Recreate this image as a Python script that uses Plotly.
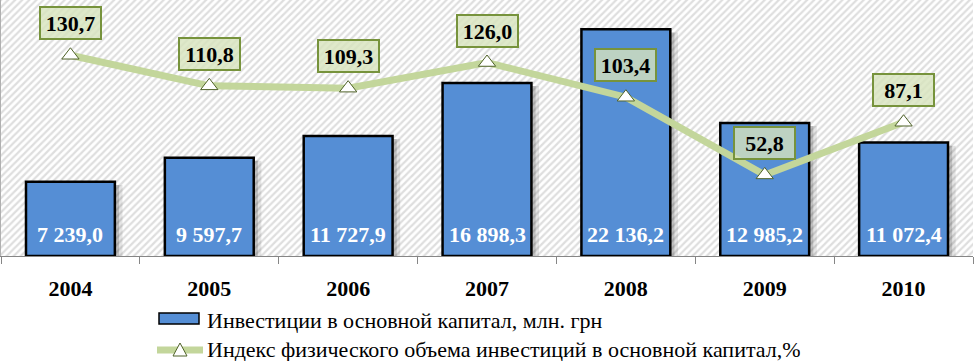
import plotly.graph_objects as go

# ---- data ----
years = ["2004", "2005", "2006", "2007", "2008", "2009", "2010"]
investments = [7239.0, 9597.7, 11727.9, 16898.3, 22136.2, 12985.2, 11072.4]
volume_index = [130.7, 110.8, 109.3, 126.0, 103.4, 52.8, 87.1]
legend_labels = ["Инвестиции в основной капитал, млн. грн",
                 "Индекс физического объема инвестиций в основной капитал,%"]

# ---- layout constants ----
W, H = 974, 361
ML, MR, MT, MB = 1, 1, 0, 105
PW, PH = W - ML - MR, H - MT - MB
Y1_MAX = 25000
Y2_MAX = 166.7
SERIF = "Liberation Serif, Times New Roman, serif"
BAR_BLUE = "#558ED5"
LINE_GREEN = "#C3D69B"


def fmt(v):
    return f"{v:,.1f}".replace(",", " ").replace(".", ",")


def px_x(X):
    return (X - ML) / PW


def px_y(Y):
    return (PH + MT - Y) / PH


fig = go.Figure()

# hatched plot background (centre category, spanning all categories)
fig.add_trace(go.Bar(
    x=[years[len(years) // 2]], y=[Y1_MAX], width=[len(years)],
    marker=dict(color="white", line_width=0,
                pattern=dict(shape="/", fgcolor="#BEBEBE", bgcolor="white",
                             size=5, solidity=0.45)),
    hoverinfo="skip", showlegend=False))

# soft bar shadows (two layers)
for off, alpha in ((0.055, 0.10), (0.03, 0.16)):
    fig.add_trace(go.Bar(
        x=years, y=[v - 50 for v in investments], base=-250,
        width=0.64, offset=-0.32 + off,
        marker=dict(color=f"rgba(0,0,0,{alpha})", line_width=0),
        hoverinfo="skip", showlegend=False))

# bars
fig.add_trace(go.Bar(
    x=years, y=investments, width=0.64, offset=-0.32,
    marker=dict(color=BAR_BLUE, line=dict(color="black", width=2.5)),
    name=legend_labels[0], showlegend=False))

# line on secondary axis
fig.add_trace(go.Scatter(
    x=years, y=volume_index, yaxis="y2", mode="lines+markers",
    line=dict(color=LINE_GREEN, width=7),
    marker=dict(symbol="triangle-up", size=15, color="white",
                line=dict(color="#4F6228", width=1)),
    name=legend_labels[1], showlegend=False))

annotations = []
for i, v in enumerate(investments):
    annotations.append(dict(
        x=i, y=0, xref="x", yref="y", yanchor="bottom", yshift=7,
        text=f"<b>{fmt(v)}</b>", showarrow=False,
        font=dict(family=SERIF, size=22, color="white")))

for i, v in enumerate(volume_index):
    annotations.append(dict(
        x=i, y=v, xref="x", yref="y2", yanchor="middle", yshift=32,
        text="<b>" + f"{v:.1f}".replace(".", ",") + "</b>", showarrow=False,
        bgcolor="rgba(215,228,189,0.8)", bordercolor="#77933C",
        borderwidth=2, borderpad=1, width=57, height=28,
        font=dict(family=SERIF, size=22, color="black")))

# custom legend
annotations.append(dict(
    x=px_x(205), y=px_y(320), xref="paper", yref="paper",
    xanchor="left", yanchor="middle", text=legend_labels[0], showarrow=False,
    font=dict(family=SERIF, size=22, color="black")))
annotations.append(dict(
    x=px_x(205), y=px_y(349), xref="paper", yref="paper",
    xanchor="left", yanchor="middle", text=legend_labels[1], showarrow=False,
    height=24, valign="middle",
    font=dict(family=SERIF, size=22, color="black")))

shapes = [
    dict(type="rect", xref="paper", yref="paper",
         x0=px_x(159), x1=px_x(199), y0=px_y(324), y1=px_y(313),
         fillcolor=BAR_BLUE, line=dict(color="black", width=1.5)),
    dict(type="line", xref="paper", yref="paper",
         x0=px_x(157), x1=px_x(203), y0=px_y(350), y1=px_y(350),
         line=dict(color=LINE_GREEN, width=7)),
    dict(type="path", xref="paper", yref="paper",
         path=(f"M {px_x(173)},{px_y(356)} L {px_x(187)},{px_y(356)} "
               f"L {px_x(180)},{px_y(343)} Z"),
         fillcolor="white", line=dict(color="#4F6228", width=1)),
]

fig.update_layout(
    width=W, height=H,
    font=dict(family=SERIF, color="black"),
    margin=dict(l=ML, r=MR, t=MT, b=MB, pad=0),
    paper_bgcolor="white", plot_bgcolor="white",
    barmode="overlay", showlegend=False,
    annotations=annotations, shapes=shapes,
    xaxis=dict(type="category", categoryorder="array", categoryarray=years,
               range=[-0.5, len(years) - 0.5],
               showline=True, linecolor="#868686", linewidth=1,
               ticks="outside", tickson="boundaries", ticklen=7,
               tickcolor="#868686", showgrid=False, zeroline=False,
               ticklabelstandoff=13,
               tickfont=dict(family=SERIF, size=22, color="black", weight="bold")),
    yaxis=dict(range=[0, Y1_MAX], showgrid=False, zeroline=False,
               showticklabels=False, ticks="", showline=True,
               linecolor="#B0B0B0", linewidth=1),
    yaxis2=dict(range=[0, Y2_MAX], overlaying="y", side="right",
                showgrid=False, zeroline=False, showticklabels=False,
                ticks="", showline=False),
)

fig.write_html("out.html")
